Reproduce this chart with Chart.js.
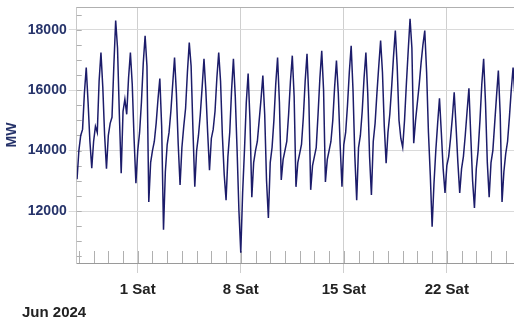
<!DOCTYPE html>
<html>
<head>
<meta charset="utf-8">
<script src="https://cdn.jsdelivr.net/npm/chart.js@4.4.1/dist/chart.umd.min.js"></script>
<style>
  html, body { margin: 0; padding: 0; background: #fff; }
  #wrap { width: 514px; height: 323px; }
</style>
</head>
<body>
<div id="wrap"><canvas id="c" width="514" height="323"></canvas></div>
<script>
// hours relative to Sat 1 Jun 2024 00:00, 3-hourly samples
const START_HOUR = -99;   // Mon 27 May 21:00
const STEP_HOURS = 3;

// MW, 8 readings a day (00,03,06,09,12,15,18,21h)
const mw = [
    13050,
    14000, 14500, 14700, 15900, 16750, 15600, 14300, 13420, // 28 May
    14300, 14800, 14600, 16300, 17240, 16100, 14500, 13400, // 29
    14500, 14900, 15100, 16800, 18300, 17400, 15200, 13250, // 30
    15300, 15700, 15200, 16400, 17240, 16200, 14400, 12920, // 31
    14000, 14600, 15600, 16900, 17800, 16800, 12300, 13600, // 1 Jun
    14000, 14300, 14900, 15700, 16380, 14800, 11380, 13300, // 2
    14200, 14600, 15300, 16200, 17080, 15900, 14200, 12860, // 3
    14100, 14800, 15400, 16600, 17570, 16800, 14700, 12800, // 4
    14000, 14500, 15200, 16100, 17040, 16000, 14600, 13350, // 5
    14400, 14700, 15300, 16400, 17240, 16300, 14500, 13200, // 6
    12360, 13800, 14600, 16000, 17040, 15800, 14000, 12000, // 7
    10620, 12600, 14000, 15600, 16550, 15000, 12460, 13600, // 8
    14000, 14300, 15000, 15700, 16480, 15200, 13000, 11770, // 9
    13600, 14100, 15000, 16200, 17080, 15600, 13030, 13700, // 10
    14000, 14300, 15200, 16300, 17140, 15800, 12800, 13600, // 11
    13900, 14200, 15100, 16300, 17200, 15700, 12700, 13500, // 12
    13800, 14100, 15200, 16400, 17300, 16000, 12960, 13700, // 13
    14000, 14300, 15000, 16100, 16980, 15900, 14200, 12800, // 14
    14200, 14600, 15500, 16600, 17470, 16000, 13800, 12360, // 15
    14100, 14500, 15300, 16400, 17240, 15900, 13800, 12530, // 16
    14300, 14900, 15900, 16800, 17640, 16600, 14800, 13580, // 17
    14600, 15200, 16100, 17100, 17970, 16800, 15000, 14400, // 18
    14110, 15000, 16200, 17300, 18360, 17400, 14240, 15000, // 19
    15600, 16200, 16900, 17500, 17970, 16600, 14600, 13200, // 20
    11480, 12900, 14000, 14900, 15730, 14600, 13400, 12600, // 21
    13500, 13800, 14400, 15100, 15930, 14800, 13600, 12600, // 22
    13400, 13800, 14500, 15300, 16060, 14500, 13000, 12100, // 23
    13400, 14000, 15000, 16200, 17040, 15600, 13600, 12460, // 24
    13600, 14000, 14900, 15800, 16650, 15200, 12300, 13300, // 25
    13900, 14300, 15100, 16000, 16750, 15800                // 26
];

const weekLabels = { 0: '1 Sat', 168: '8 Sat', 336: '15 Sat', 504: '22 Sat' };
const yLabels = [12000, 14000, 16000, 18000];
const yMinor = [10500, 11000, 11500, 12000, 12500, 13000, 13500, 14000, 14500,
                15000, 15500, 16000, 16500, 17000, 17500, 18000, 18500];
const monthLabel = 'Jun 2024';

const FONT = "'Liberation Sans', Arial, sans-serif";
const NAVY = '#26336a';

const points = mw.map((v, i) => ({ x: START_HOUR + i * STEP_HOURS, y: v }));

const frame = {
    id: 'frame',
    beforeDatasetsDraw(chart) {
        const { ctx, chartArea: a, scales: { x, y } } = chart;
        ctx.save();
        ctx.strokeStyle = '#b0b0b0';
        ctx.lineWidth = 1;
        ctx.beginPath();
        ctx.moveTo(a.left, a.top + 0.5);
        ctx.lineTo(a.right, a.top + 0.5);
        // daily ticks inside the bottom edge
        for (const t of x.ticks) {
            const px = Math.round(x.getPixelForValue(t.value)) + 0.5;
            ctx.moveTo(px, a.bottom);
            ctx.lineTo(px, a.bottom - 12);
        }
        // 500 MW ticks inside the left edge
        for (const v of yMinor) {
            const py = Math.round(y.getPixelForValue(v)) + 0.5;
            ctx.moveTo(a.left, py);
            ctx.lineTo(a.left + 5, py);
        }
        ctx.stroke();
        ctx.restore();
    },
    afterDraw(chart) {
        const c = chart.ctx;
        c.save();
        c.font = 'bold 15px ' + FONT;
        c.fillStyle = '#222';
        c.textBaseline = 'middle';
        c.fillText(monthLabel, 22, 313);
        c.restore();
    }
};

new Chart(document.getElementById('c'), {
    type: 'line',
    data: {
        datasets: [{
            data: points,
            borderColor: '#1c1c6a',
            borderWidth: 1.5,
            pointRadius: 0,
            tension: 0,
        }]
    },
    options: {
        responsive: false,
        animation: false,
        parsing: false,
        layout: { padding: { top: 7, right: 0, bottom: 16, left: 0 } },
        plugins: {
            legend: { display: false },
            tooltip: { enabled: false },
        },
        scales: {
            x: {
                type: 'linear',
                min: -99.5,
                max: 613.5,
                border: { color: '#9a9a9a' },
                grid: {
                    color: (c) => weekLabels[c.tick.value] ? '#cfcfcf' : 'transparent',
                    tickLength: 10,
                },
                ticks: {
                    stepSize: 24,
                    includeBounds: false,
                    autoSkip: false,
                    maxRotation: 0,
                    padding: 8,
                    color: '#222',
                    font: { family: FONT, size: 15, weight: 'bold' },
                    callback: (v) => weekLabels[v] || '',
                }
            },
            y: {
                min: 10280,
                max: 18750,
                afterBuildTicks: (scale) => {
                    scale.ticks = yLabels.map((v) => ({ value: v }));
                },
                afterFit: (scale) => {
                    scale.paddingTop = 0;
                    scale.paddingBottom = 0;
                },
                border: { color: '#c8c8c8' },
                grid: {
                    color: '#dadada',
                    tickLength: 8,
                },
                ticks: {
                    autoSkip: false,
                    padding: 2,
                    color: NAVY,
                    font: { family: FONT, size: 14, weight: 'bold' },
                    callback: (v) => String(v),
                },
                title: {
                    display: true,
                    text: 'MW',
                    color: NAVY,
                    font: { family: FONT, size: 14, weight: 'bold' },
                    padding: { top: 4, bottom: 5 },
                }
            }
        }
    },
    plugins: [frame]
});
</script>
</body>
</html>
